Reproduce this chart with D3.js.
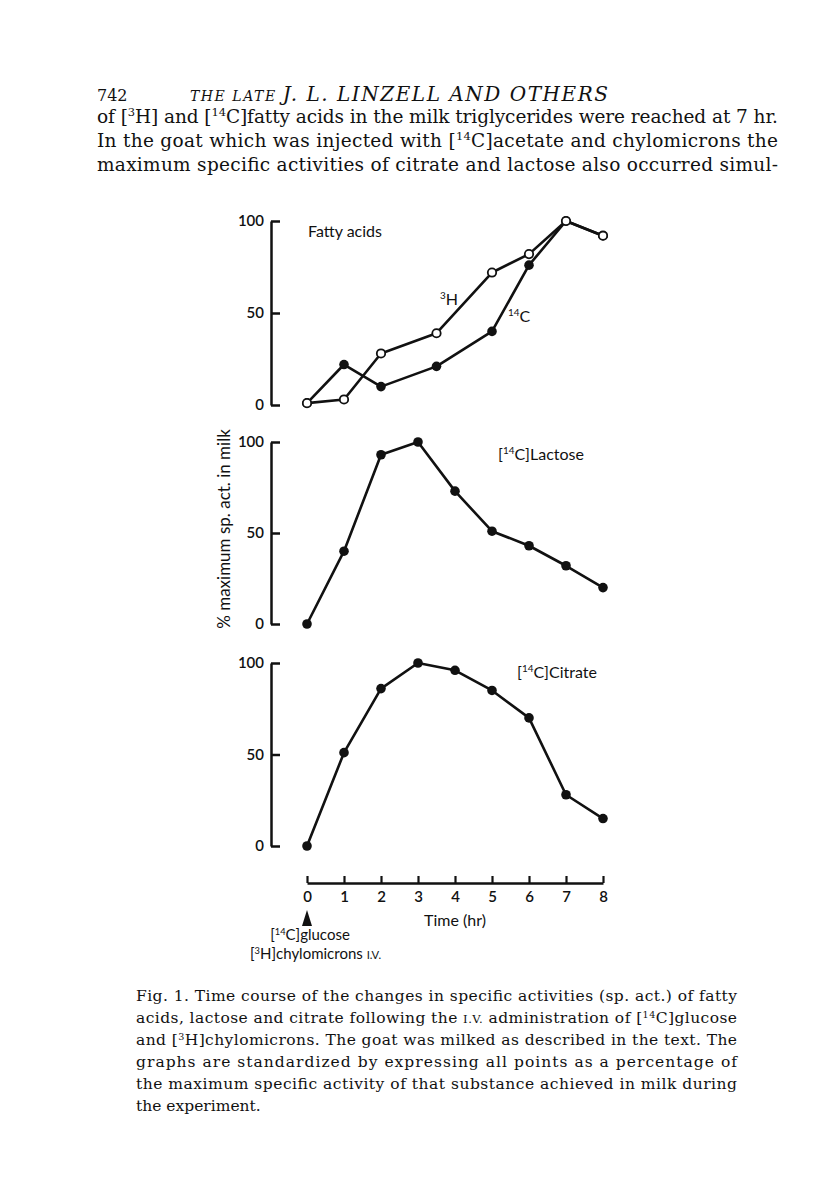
<!DOCTYPE html>
<html>
<head>
<meta charset="utf-8">
<script src="https://cdn.jsdelivr.net/npm/d3@7"></script>
<style>
  body { margin: 0; background: #fff; }
  svg { display: block; }
</style>
</head>
<body>
<div id="chart"></div>
<script>
// ---- data ----
const hours = [0, 1, 2, 3, 4, 5, 6, 7, 8];
const fattyHours = [0, 1, 2, 3.5, 5, 6, 7, 8];
const fatty3H = [1, 3, 28, 39, 72, 82, 100, 92];
const fatty14C = [1, 22, 10, 21, 40, 76, 100, 92];
const lactose = [0, 40, 93, 100, 73, 51, 43, 32, 20];
const citrate = [0, 51, 86, 100, 96, 85, 70, 28, 15];
const yTicks = [0, 50, 100];

// page text (^{..} = superscript, _{..} = small caps)
const headerNum = "742";
const headerTitle = ["THE LATE ", "J. L. LINZELL AND OTHERS"];
const bodyLines = [
  "of [^{3}H] and [^{14}C]fatty acids in the milk triglycerides were reached at 7 hr.",
  "In the goat which was injected with [^{14}C]acetate and chylomicrons the",
  "maximum specific activities of citrate and lactose also occurred simul-"
];
const captionLines = [
  "Fig. 1. Time course of the changes in specific activities (sp. act.) of fatty",
  "acids, lactose and citrate following the _{I.V.} administration of [^{14}C]glucose",
  "and [^{3}H]chylomicrons. The goat was milked as described in the text. The",
  "graphs are standardized by expressing all points as a percentage of",
  "the maximum specific activity of that substance achieved in milk during",
  "the experiment."
];

const ink = "#111";
const sans = "Lato, 'Open Sans', sans-serif";
const serif = "'DejaVu Serif', serif";

const svg = d3.select("#chart")
  .append("svg")
  .attr("width", 816)
  .attr("height", 1195);

svg.append("rect").attr("width", 816).attr("height", 1195).attr("fill", "#fff");

// text with superscripts / small caps
function rich(sel, str) {
  str.split(/(\^\{[^}]*\}|_\{[^}]*\})/).forEach(p => {
    if (!p) return;
    if (p.startsWith("^{")) {
      sel.append("tspan").attr("baseline-shift", "super").style("font-size", "0.62em").text(p.slice(2, -1));
    } else if (p.startsWith("_{")) {
      sel.append("tspan").style("font-size", "0.75em").text(p.slice(2, -1));
    } else {
      sel.append("tspan").text(p);
    }
  });
  return sel;
}

// ---- running head and body text ----
svg.append("text")
  .attr("x", 97).attr("y", 101)
  .attr("font-family", serif).attr("font-size", 16).attr("fill", ink)
  .text(headerNum);

const head = svg.append("text")
  .attr("x", 190).attr("y", 101)
  .attr("font-family", serif).attr("font-style", "italic").attr("fill", ink)
  .attr("textLength", 418).attr("lengthAdjust", "spacing");
head.append("tspan").attr("font-size", 14).text(headerTitle[0]);
head.append("tspan").attr("font-size", 20).text(headerTitle[1]);

bodyLines.forEach((line, i) => {
  rich(svg.append("text")
    .attr("x", 97).attr("y", 123 + i * 24)
    .attr("font-family", serif).attr("font-size", 18.5).attr("fill", ink)
    .attr("textLength", 681).attr("lengthAdjust", "spacing"), line);
});

captionLines.forEach((line, i) => {
  const t = svg.append("text")
    .attr("x", 136).attr("y", 1001 + i * 22)
    .attr("font-family", serif).attr("font-size", 15.5).attr("fill", ink);
  if (i < captionLines.length - 1) t.attr("textLength", 601).attr("lengthAdjust", "spacing");
  rich(t, line);
});

// ---- chart ----
const x = d3.scaleLinear().domain([0, 8]).range([307, 603]);
const axisX = 271;

function drawPanel(y0, y1) {
  const y = d3.scaleLinear().domain([0, 100]).range([y0, y1]);
  const g = svg.append("g")
    .attr("transform", `translate(${axisX},0)`)
    .call(d3.axisLeft(y).tickValues(yTicks).tickSize(-9).tickSizeOuter(0).tickPadding(7).tickFormat(d3.format("d")));
  g.select(".domain").attr("stroke", ink).attr("stroke-width", 2.5);
  g.selectAll(".tick line").attr("stroke", ink).attr("stroke-width", 2.5);
  g.selectAll(".tick text").attr("font-family", sans).attr("font-size", 15).attr("font-weight", 600).attr("fill", ink);
  return y;
}

function drawSeries(y, ts, vs, open) {
  const pts = ts.map((t, i) => ({ t: t, v: vs[i] }));
  svg.append("path")
    .datum(pts)
    .attr("d", d3.line().x(d => x(d.t)).y(d => y(d.v)))
    .attr("fill", "none")
    .attr("stroke", ink)
    .attr("stroke-width", 2.6)
    .attr("stroke-linejoin", "round");
  svg.append("g").selectAll("circle")
    .data(pts)
    .join("circle")
    .attr("cx", d => x(d.t))
    .attr("cy", d => y(d.v))
    .attr("r", open ? 4.2 : 4.8)
    .attr("fill", open ? "#fff" : ink)
    .attr("stroke", ink)
    .attr("stroke-width", open ? 1.8 : 0);
}

function label(xp, yp, str, anchor, size) {
  return rich(svg.append("text")
    .attr("x", xp).attr("y", yp)
    .attr("text-anchor", anchor || "start")
    .attr("font-family", sans).attr("font-size", size || 16).attr("fill", ink), str);
}

// fatty acids
const yF = drawPanel(405, 221);
drawSeries(yF, fattyHours, fatty14C, false);
drawSeries(yF, fattyHours, fatty3H, true);
label(308, 237, "Fatty acids");
label(440, 305, "^{3}H");
label(508, 322, "^{14}C");

// lactose
const yL = drawPanel(624, 442);
drawSeries(yL, hours, lactose, false);
label(498, 460, "[^{14}C]Lactose");

// citrate
const yC = drawPanel(846, 663);
drawSeries(yC, hours, citrate, false);
label(517, 678, "[^{14}C]Citrate");

// y label
svg.append("text")
  .attr("transform", "translate(230,529) rotate(-90)")
  .attr("text-anchor", "middle")
  .attr("font-family", sans).attr("font-size", 17).attr("fill", ink)
  .text("% maximum sp. act. in milk");

// time axis
const gx = svg.append("g")
  .attr("transform", "translate(0,883)")
  .call(d3.axisBottom(x).tickValues(hours).tickSize(-7).tickSizeOuter(0).tickPadding(8).tickFormat(d3.format("d")));
gx.select(".domain").attr("stroke", ink).attr("stroke-width", 2.5);
gx.selectAll(".tick line").attr("stroke", ink).attr("stroke-width", 2.2);
gx.selectAll(".tick text").attr("font-family", sans).attr("font-size", 15).attr("font-weight", 600).attr("fill", ink);

label(455, 926, "Time (hr)", "middle");

// injection marker
svg.append("path")
  .attr("d", `M${x(0)},910 L${x(0) + 5},926 L${x(0) - 5},926 Z`)
  .attr("fill", ink);
label(310, 940, "[^{14}C]glucose", "middle", 15);
label(250, 959, "[^{3}H]chylomicrons _{I.V.}", "start", 15);
</script>
</body>
</html>
